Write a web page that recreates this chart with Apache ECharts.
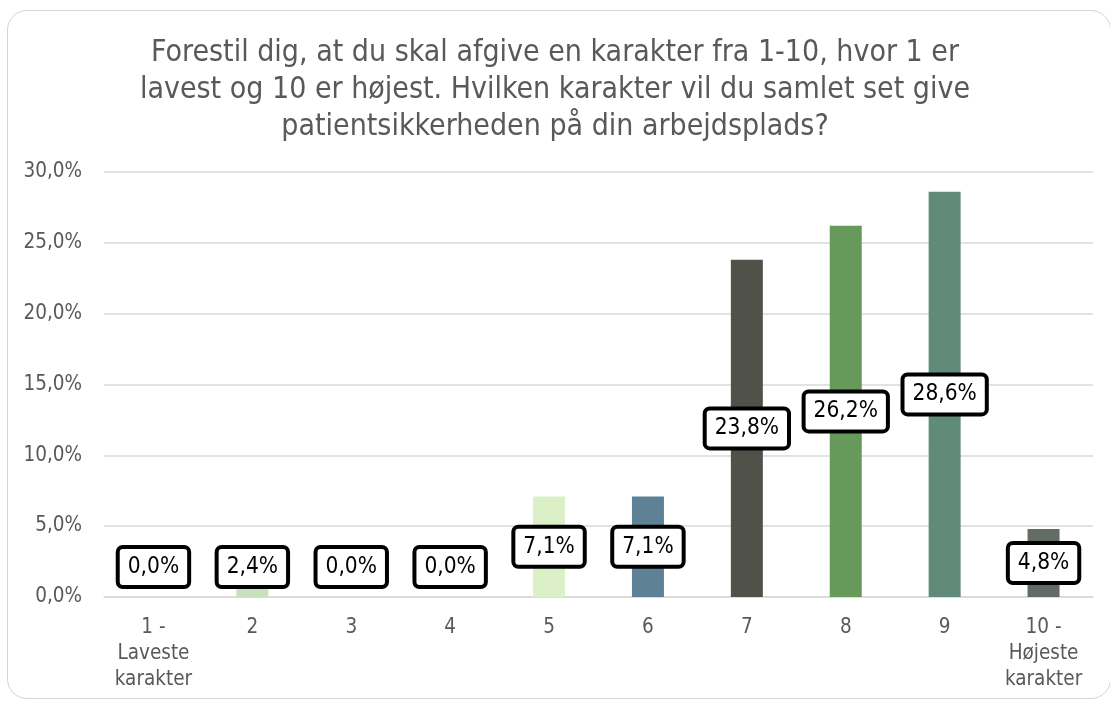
<!DOCTYPE html>
<html>
<head>
<meta charset="utf-8">
<script src="https://cdn.jsdelivr.net/npm/echarts@6/dist/echarts.min.js"></script>
<style>
html,body{margin:0;padding:0;background:#fff;overflow:hidden;}
#frame{position:absolute;left:7px;top:10px;width:1104px;height:689px;border:1.5px solid #d4d4d0;border-radius:20px;box-sizing:border-box;}
#chart{position:absolute;left:0;top:0;width:1110px;height:702px;}
</style>
</head>
<body>
<div id="frame"></div>
<div id="chart"></div>
<script>
var titleLines = [
  'Forestil dig, at du skal afgive en karakter fra 1-10, hvor 1 er',
  'lavest og 10 er højest. Hvilken karakter vil du samlet set give',
  'patientsikkerheden på din arbejdsplads?'
];
var categories = ['1 -\nLaveste\nkarakter', '2', '3', '4', '5', '6', '7', '8', '9', '10 -\nHøjeste\nkarakter'];
var values = [0.0, 2.4, 0.0, 0.0, 7.1, 7.1, 23.8, 26.2, 28.6, 4.8];
var barColors = ['#c8e0bc', '#c8e0bc', '#c8e0bc', '#c8e0bc', '#dcf0c8', '#5f8196', '#50524a', '#659a5a', '#5f8b78', '#626c64'];
var yTicks = { min: 0, max: 30, interval: 5 };

var FONT = '"DejaVu Sans Condensed", "DejaVu Sans", sans-serif';
function pct(v) { return v.toFixed(1).replace('.', ',') + '%'; }

var chart = echarts.init(document.getElementById('chart'), null, { renderer: 'canvas' });
chart.setOption({
  backgroundColor: 'transparent',
  animation: false,
  title: {
    text: titleLines.join('\n'),
    left: 'center',
    top: 30,
    textStyle: { fontFamily: FONT, fontSize: 30, fontWeight: 'normal', color: '#595959', lineHeight: 37, align: 'center' }
  },
  grid: { left: 104, right: 17, top: 172, bottom: 105, containLabel: false },
  xAxis: {
    type: 'category',
    data: categories,
    axisLine: { show: true, lineStyle: { color: '#d9d9d9', width: 1.5 } },
    axisTick: { show: false },
    axisLabel: { fontFamily: FONT, fontSize: 20.5, color: '#595959', lineHeight: 26, margin: 18, interval: 0 }
  },
  yAxis: {
    type: 'value',
    min: yTicks.min, max: yTicks.max, interval: yTicks.interval,
    axisLine: { show: false },
    axisTick: { show: false },
    splitLine: { lineStyle: { color: '#d9d9d9', width: 1.5 } },
    axisLabel: { fontFamily: FONT, fontSize: 20.5, color: '#595959', margin: 22, formatter: pct }
  },
  series: [{
    type: 'bar',
    barWidth: 32,
    data: values.map(function (v, i) { return { value: v, itemStyle: { color: barColors[i] } }; }),
    label: {
      show: true,
      position: 'inside',
      formatter: function (p) { return pct(p.value); },
      fontFamily: FONT,
      fontSize: 22.5,
      color: '#000',
      backgroundColor: '#fff',
      borderColor: '#000',
      borderWidth: 4,
      borderRadius: 3,
      padding: [7, 8, 6, 8]
    },
    labelLayout: function (p) {
      var r = p.rect;
      var top = Math.min(r.y, r.y + r.height);
      var base = Math.max(r.y, r.y + r.height);
      var cy = Math.min((top + base) / 2, base - 30);
      return { x: r.x + r.width / 2, y: cy, align: 'center', verticalAlign: 'middle' };
    }
  }]
});
</script>
</body>
</html>
